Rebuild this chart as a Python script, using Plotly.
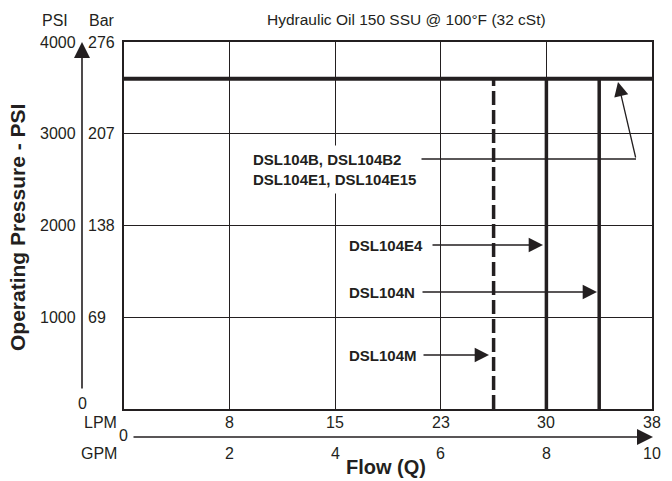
import plotly.graph_objects as go

# ---- data ----
gpm_ticks = [2, 4, 6, 8, 10]
lpm_labels = ["8", "15", "23", "30", "38"]
gpm_labels = ["2", "4", "6", "8", "10"]
psi_ticks = [1000, 2000, 3000, 4000]
psi_labels = ["1000", "2000", "3000", "4000"]
bar_labels = ["69", "138", "207", "276"]
max_pressure = 3600          # PSI relief limit line
model_flows = [7, 8, 9]      # GPM
model_dash = ["dash", "solid", "solid"]
x_range = [0, 10]
y_range = [0, 4000]

# ---- layout geometry (pixels) ----
W, H = 672, 481
L, R, T, B = 124, 20, 42, 72
PW, PH = W - L - R, H - T - B
def xp(px):
    return (px - L) / PW
def yp(py):
    return (H - B - py) / PH

FONT = "Liberation Sans, Arial, Helvetica, sans-serif"
INK = "#231f20"
TICK = 16
ANN = 15

fig = go.Figure()

# horizontal max-pressure line
fig.add_trace(go.Scatter(x=x_range, y=[max_pressure, max_pressure], mode="lines",
                         line=dict(color=INK, width=4), hoverinfo="skip", showlegend=False,
                         cliponaxis=False))
# vertical model flow lines
for f, d in zip(model_flows, model_dash):
    fig.add_trace(go.Scatter(x=[f, f], y=[0, max_pressure], mode="lines",
                             line=dict(color=INK, width=3.5,
                                       dash="14px,5px" if d == "dash" else "solid"),
                             hoverinfo="skip", showlegend=False))

ann = []
def txt(text, x, y, xref="paper", yref="paper", xanchor="center", size=TICK, bold=False, **kw):
    ann.append(dict(text=("<b>%s</b>" % text) if bold else text, x=x, y=y, xref=xref, yref=yref,
                    xanchor=xanchor, yanchor="middle", showarrow=False,
                    font=dict(family=FONT, size=size, color=INK), **kw))

# title & axis headers
txt("Hydraulic Oil 150 SSU @ 100°F (32 cSt)", xp(406), yp(19), size=15.5)
txt("PSI", xp(55), yp(20))
txt("Bar", xp(102), yp(20))
for v, pl, bl in zip(psi_ticks, psi_labels, bar_labels):
    txt(pl, xp(78), v, yref="y", xanchor="right")
    txt(bl, xp(86), v, yref="y", xanchor="left")
txt("0", xp(82), yp(403))
txt("LPM", xp(119), yp(422), xanchor="right")
txt("GPM", xp(119), yp(453), xanchor="right")
txt("0", xp(123), yp(435))
for g, ll, gl in zip(gpm_ticks, lpm_labels, gpm_labels):
    txt(ll, g, yp(422), xref="x")
    txt(gl, g, yp(453), xref="x")
txt("Flow (Q)", xp(386), yp(467), size=20, bold=True)
txt("Operating Pressure - PSI", xp(18), yp(228), size=21, bold=True, textangle=-90)

# model labels
def y_of(py):
    return (H - B - py) / PH * (y_range[1] - y_range[0])
def x_of(px):
    return (px - L) / PW * (x_range[1] - x_range[0])

txt("DSL104B, DSL104B2<br>DSL104E1, DSL104E15", x_of(247), y_of(169), xref="x", yref="y",
    xanchor="left", size=ANN, bold=True, align="left", bgcolor="white", borderpad=5)
txt("DSL104E4", x_of(347), y_of(245), xref="x", yref="y", xanchor="left", size=ANN, bold=True)
txt("DSL104N", x_of(347), y_of(292), xref="x", yref="y", xanchor="left", size=ANN, bold=True)
txt("DSL104M", x_of(347), y_of(355), xref="x", yref="y", xanchor="left", size=ANN, bold=True)

def arrow(x0, y0, x1, y1):
    ann.append(dict(text="", x=x1, y=y1, ax=x0, ay=y0, xref="x", yref="y", axref="x", ayref="y",
                    showarrow=True, arrowhead=2, arrowsize=2.2, arrowwidth=1.3, arrowcolor=INK,
                    standoff=0, startstandoff=0))

arrow(x_of(431), y_of(245), x_of(543), y_of(245))
arrow(x_of(421), y_of(292), x_of(597), y_of(292))
arrow(x_of(422), y_of(355), x_of(489), y_of(355))
arrow(x_of(636), y_of(159), x_of(618), y_of(82))

# left vertical arrow (pressure axis)
ann.append(dict(text="", x=xp(82), y=1.0, xref="paper", yref="paper", ax=0, ay=348,
                axref="pixel", ayref="pixel", showarrow=True, arrowhead=2, arrowsize=2.0,
                arrowwidth=1.6, arrowcolor=INK, standoff=0))
# bottom horizontal arrow (flow axis)
ann.append(dict(text="", x=xp(653), y=yp(437), xref="paper", yref="paper", ax=-521, ay=0,
                axref="pixel", ayref="pixel", showarrow=True, arrowhead=2, arrowsize=2.0,
                arrowwidth=1.6, arrowcolor=INK, standoff=0))

shapes = [dict(type="line", xref="x", yref="y", x0=x_of(410), x1=x_of(636), y0=y_of(159),
               y1=y_of(159), line=dict(color=INK, width=1.3))]

fig.update_layout(
    width=W, height=H, margin=dict(l=L, r=R, t=T, b=B),
    paper_bgcolor="white", plot_bgcolor="white",
    annotations=ann, shapes=shapes,
    xaxis=dict(range=x_range, dtick=2, tick0=0, showgrid=True, gridcolor=INK, gridwidth=1.3,
               showline=True, linecolor=INK, linewidth=1.5, mirror=True, zeroline=False,
               showticklabels=False, ticks="", fixedrange=True),
    yaxis=dict(range=y_range, dtick=1000, tick0=0, showgrid=True, gridcolor=INK, gridwidth=1.3,
               showline=True, linecolor=INK, linewidth=1.5, mirror=True, zeroline=False,
               showticklabels=False, ticks="", fixedrange=True),
    showlegend=False,
)

fig.write_html("out.html", config={"displayModeBar": False},
               post_script="document.body.style.margin='0';document.body.style.overflow='hidden';")
